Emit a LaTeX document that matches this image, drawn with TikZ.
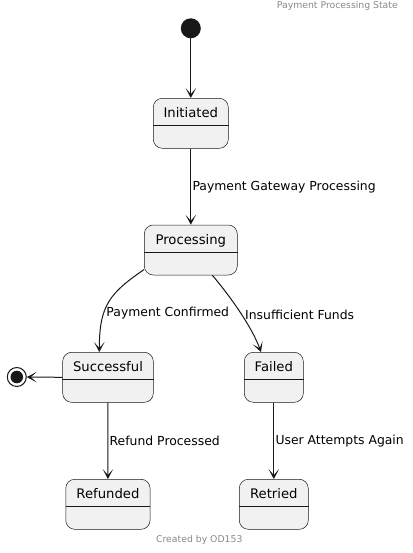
\documentclass[tikz,border=0pt]{standalone}
\usepackage{fontspec}
\setmainfont{DejaVu Sans}
\usetikzlibrary{arrows.meta}

\definecolor{boxfill}{HTML}{F1F1F1}
\definecolor{inkline}{HTML}{181818}
\definecolor{notegray}{HTML}{888888}

\tikzset{
  state/.style={draw=inkline,line width=0.5pt,fill=boxfill,rounded corners=9pt,
    inner ysep=0pt,text height=19.4pt,text depth=30.6pt,
    font=\fontsize{13.2}{15}\selectfont},
  startstate/.style={circle,fill=inkline,minimum size=20pt,inner sep=0pt},
  endstate/.style={circle,draw=inkline,line width=1pt,fill=white,minimum size=19pt,inner sep=0pt,
    path picture={\fill[inkline] (path picture bounding box.center) circle (6.3pt);}},
  trans/.style={draw=inkline,line width=1pt,-{Stealth[length=10pt,width=10.5pt,inset=6pt]}},
  tlabel/.style={font=\fontsize{12.4}{14}\selectfont,inner sep=1.2pt},
  note/.style={font=\fontsize{9.3}{11}\selectfont,text=notegray,inner sep=0pt}
}

\begin{document}
\begin{tikzpicture}[x=1pt,y=-1pt]
 \useasboundingbox (0,0) rectangle (412,553);
 % titles
 \node[note,anchor=east] (title) at (398,6) {Payment Processing State};
 \node[note] (footer) at (199.3,540) {Created by OD153};
 % states
 \node[startstate] (start) at (190.8,28.3) {};
 \node[state,minimum width=75pt] (init) at (190.8,123.3) {Initiated};
 \node[state,minimum width=93pt] (proc) at (190.8,250) {Processing};
 \node[state,minimum width=90.6pt] (succ) at (108,377.3) {Successful};
 \node[state,minimum width=59pt] (fail) at (273.8,377.3) {Failed};
 \node[state,minimum width=84.3pt] (refd) at (107.9,504.3) {Refunded};
 \node[state,minimum width=69pt] (retr) at (273.8,504.3) {Retried};
 \node[endstate] (stop) at (16.8,377) {};
 \foreach \s in {init,proc,succ,fail,refd,retr}
   {\draw[inkline,line width=0.5pt] ([yshift=-27.4pt]\s.north west) -- ([yshift=-27.4pt]\s.north east);}
 % transitions
 \draw[trans] (start) -- (init);
 \draw[trans] (init) -- (proc)
   node[tlabel,midway,anchor=west] {Payment Gateway Processing};
 \draw[trans] ([yshift=5.7pt]proc.south west) .. controls (110,293) and (99.3,305) .. ([xshift=-8.7pt]succ.north)
   node[tlabel,pos=0.65,anchor=west,xshift=1pt] {Payment Confirmed};
 \draw[trans] ([xshift=21.5pt]proc.south) .. controls (230,296) and (252,327) .. ([xshift=-12.8pt]fail.north)
   node[tlabel,pos=0.53,anchor=west,xshift=2pt] {Insufficient Funds};
 \draw[trans] (succ.west) -- (stop);
 \draw[trans] (succ) -- (refd)
   node[tlabel,midway,anchor=west] {Refund Processed};
 \draw[trans] (fail) -- (retr)
   node[tlabel,midway,anchor=west] {User Attempts Again};
\end{tikzpicture}
\end{document}
